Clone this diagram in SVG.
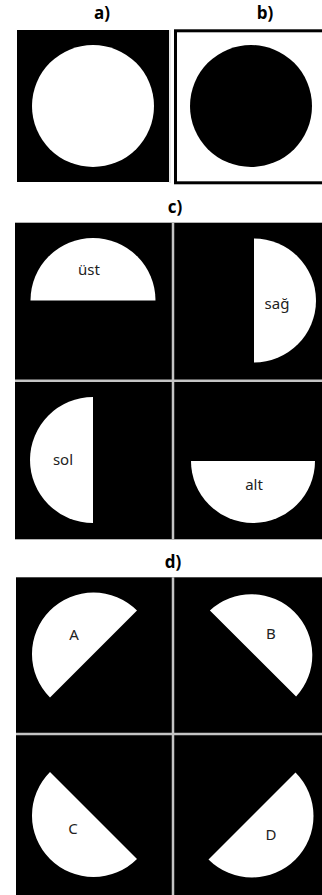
<svg xmlns="http://www.w3.org/2000/svg" width="322" height="895" viewBox="0 0 322 895">
<style>
.lbl{font-family:"Open Sans","Noto Sans","DejaVu Sans",sans-serif;font-weight:bold;font-size:17px;fill:#000;text-anchor:middle}
.t{font-family:"Noto Sans","Open Sans","DejaVu Sans",sans-serif;font-size:15px;fill:#222;text-anchor:middle}
.bg{fill:#000}
.w{fill:#fff}
.div{stroke:#c4c4c4;stroke-width:2.5;fill:none}
</style>
<rect width="322" height="895" fill="#fff"/>
<g id="label-a"><text class="lbl" x="102" y="19">a)</text></g>
<g id="label-b"><text class="lbl" x="265" y="19">b)</text></g>
<g id="panel-a">
<rect class="bg" x="17" y="30" width="152" height="152"/>
<line x1="170" y1="30" x2="170" y2="183" stroke="#d0d0d0" stroke-width="1"/>
<circle class="w" cx="93" cy="106" r="61"/>
</g>
<g id="panel-b">
<rect x="175.5" y="30.8" width="150" height="152" fill="#fff" stroke="#000" stroke-width="3"/>
<circle class="bg" cx="251" cy="106" r="61"/>
</g>
<g id="label-c"><text class="lbl" x="175" y="213">c)</text></g>
<g id="panel-c">
<rect class="bg" x="15" y="222.7" width="307" height="316.6"/>
<path class="w" d="M30.5 300.5 A62.5 62.5 0 0 1 155.5 300.5 Z"/>
<text class="t" x="89" y="275">üst</text>
<path class="w" d="M254 238.5 A62 62 0 0 1 254 362.5 Z"/>
<text class="t" x="277" y="309">sağ</text>
<path class="w" d="M93 397 A63 63 0 0 0 93 523 Z"/>
<text class="t" x="63" y="465">sol</text>
<path class="w" d="M191 461 A62 62 0 0 0 315 461 Z"/>
<text class="t" x="254" y="490">alt</text>
</g>
<g id="label-d"><text class="lbl" x="173" y="568">d)</text></g>
<g id="panel-d">
<rect class="bg" x="16" y="577.3" width="306" height="317.7"/>
<path class="w" d="M137 610.5 A61.5 61.5 0 0 0 50 697.5 Z"/>
<text class="t" x="74" y="640">A</text>
<path class="w" d="M209.9 610.4 A61 61 0 0 1 296.1 696.6 Z"/>
<text class="t" x="271" y="639">B</text>
<path class="w" d="M50 772 A61.5 61.5 0 0 0 137 859 Z"/>
<text class="t" x="73" y="834">C</text>
<path class="w" d="M208.5 859.5 A61.5 61.5 0 0 0 295.5 772.5 Z"/>
<text class="t" x="271" y="840">D</text>
</g>
<g id="connectors">
<line class="div" x1="173" y1="222.7" x2="173" y2="539.3"/>
<line class="div" x1="15" y1="380.7" x2="322" y2="380.7"/>
<line class="div" x1="173" y1="577.3" x2="173" y2="895"/>
<line class="div" x1="16" y1="734" x2="322" y2="734"/>
</g>
</svg>
